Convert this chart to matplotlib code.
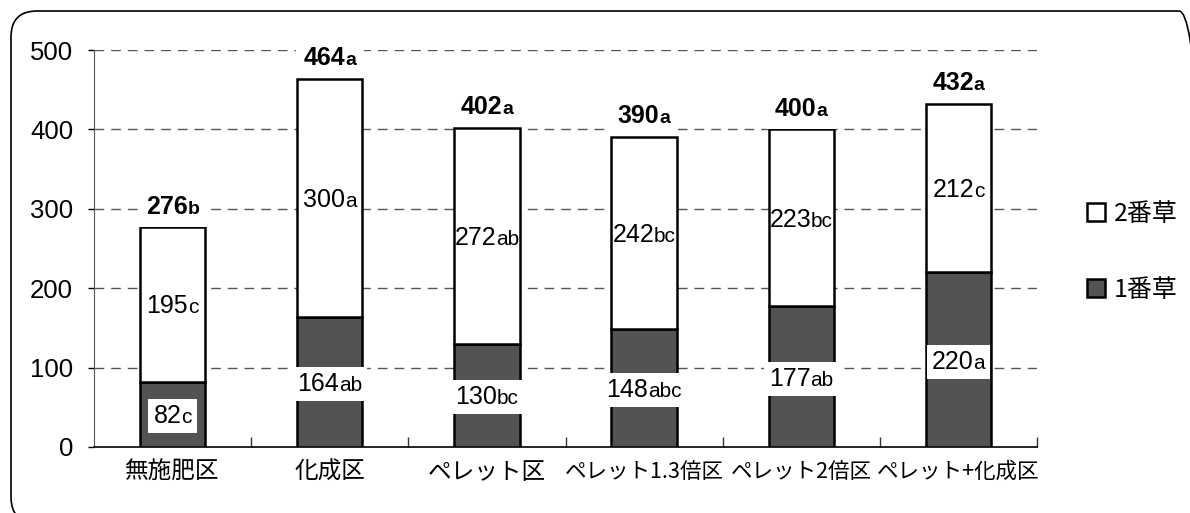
import matplotlib
matplotlib.use("Agg")
import matplotlib.pyplot as plt
from matplotlib.patches import FancyBboxPatch, Patch, Rectangle
from matplotlib import transforms
import numpy as np

categories = ["無施肥区", "化成区", "ペレット区", "ペレット1.3倍区", "ペレット2倍区", "ペレット+化成区"]
first_cut = [82, 164, 130, 148, 177, 220]
first_letters = ["c", "ab", "bc", "abc", "ab", "a"]
second_cut = [195, 300, 272, 242, 223, 212]
second_letters = ["c", "a", "ab", "bc", "bc", "c"]
totals = [276, 464, 402, 390, 400, 432]
total_letters = ["b", "a", "a", "a", "a", "a"]
legend_labels = ["2番草", "1番草"]
yticks = [0, 100, 200, 300, 400, 500]

NUM_FONT = ["Liberation Sans", "DejaVu Sans"]
JP_FONT = ["Noto Sans CJK JP", "DejaVu Sans"]

W, H = 1190, 513
DPI = 100
fig = plt.figure(figsize=(W / DPI, H / DPI), dpi=DPI)
ax = fig.add_axes([94 / W, 1 - 447 / H, (1037 - 94) / W, (447 - 50) / H])

# rounded outer frame (inch coordinates)
frame = FancyBboxPatch((11 / DPI, -10 / DPI), (1205 - 11) / DPI, (502 + 10) / DPI,
                       boxstyle="round,pad=0,rounding_size=0.26",
                       transform=fig.dpi_scale_trans, facecolor="none",
                       edgecolor="black", linewidth=1.2, clip_on=False)
fig.patches.append(frame)

x = np.arange(len(categories))
bw = 0.415
dark = "#535353"
ax.bar(x, first_cut, width=bw, color=dark, edgecolor="black", linewidth=1.8, zorder=3)
ax.bar(x, second_cut, width=bw, bottom=first_cut, color="white", edgecolor="black",
       linewidth=1.8, zorder=3)

ax.set_xlim(-0.5, len(categories) - 0.5)
ax.set_ylim(0, 500)
ax.set_yticks(yticks)
ax.set_yticklabels([str(v) for v in yticks], fontsize=18.5, family=NUM_FONT)
ax.set_xticks(x)
ax.set_xticklabels(categories, family=JP_FONT)
for i, t in enumerate(ax.get_xticklabels()):
    t.set_fontsize(17 if len(categories[i]) <= 5 else 15.5)
ax.tick_params(axis="x", which="major", length=0, pad=10)
ax.set_xticks(np.arange(0.5, len(categories), 1.0), minor=True)
ax.tick_params(axis="x", which="minor", direction="in", length=7, width=1, color="#333333")
ax.tick_params(axis="y", which="major", direction="out", length=4, width=1, pad=11)

for s in ["top", "right"]:
    ax.spines[s].set_visible(False)
ax.spines["left"].set_color("#555555")
ax.spines["bottom"].set_color("black")
ax.spines["bottom"].set_linewidth(1.2)
ax.set_autoscale_on(False)

for v in yticks[1:]:
    ax.axhline(v, color="#555555", linestyle=(0, (7, 5)), linewidth=1, zorder=1)

fig.canvas.draw()
renderer = fig.canvas.get_renderer()


def width_pts(s, size, weight):
    tmp = ax.text(0, 0, s, fontsize=size, family=NUM_FONT, weight=weight)
    w = tmp.get_window_extent(renderer).width * 72 / DPI
    tmp.remove()
    return w


def label(xv, yv, num, let, numsize, letsize, weight, boxpad, center=True, dy=0):
    nw = width_pts(num, numsize, weight)
    lw = width_pts(let, letsize, weight)
    total = nw + lw
    base_dy = (-0.358 * numsize if center else 0) + dy
    tn = transforms.offset_copy(ax.transData, fig=fig, x=-total / 2, y=base_dy, units="points")
    tl = transforms.offset_copy(ax.transData, fig=fig, x=-total / 2 + nw, y=base_dy, units="points")
    t1 = ax.text(xv, yv, num, fontsize=numsize, family=NUM_FONT, weight=weight,
                 ha="left", va="baseline", transform=tn, zorder=6)
    t2 = ax.text(xv, yv, let, fontsize=letsize, family=NUM_FONT, weight=weight,
                 ha="left", va="baseline", transform=tl, zorder=6)
    if boxpad is not None:
        e1 = t1.get_window_extent(renderer)
        e2 = t2.get_window_extent(renderer)
        x0 = min(e1.x0, e2.x0) - boxpad
        x1 = max(e1.x1, e2.x1) + boxpad
        y0 = e1.y0 - boxpad
        y1 = e1.y1 + boxpad
        r = Rectangle((x0, y0), x1 - x0, y1 - y0, transform=transforms.IdentityTransform(),
                      facecolor="white", edgecolor="none", zorder=5)
        ax.add_patch(r)


for i in range(len(categories)):
    label(x[i], first_cut[i] / 2, str(first_cut[i]), first_letters[i], 18, 15, "normal", 5)
    label(x[i], first_cut[i] + second_cut[i] / 2, str(second_cut[i]), second_letters[i],
          18, 15, "normal", None)
    label(x[i], totals[i], str(totals[i]), total_letters[i], 18, 14, "bold", 8,
          center=False, dy=10)

handles = [Patch(facecolor="white", edgecolor="black", linewidth=1.8),
           Patch(facecolor=dark, edgecolor="black", linewidth=1.8)]
leg = fig.legend(handles, legend_labels, loc="center left",
                 bbox_to_anchor=(1064 / W, 1 - 252 / H), frameon=False,
                 handlelength=0.75, handleheight=0.75, handletextpad=0.35,
                 labelspacing=2.0, prop={"family": JP_FONT, "size": 18})

fig.savefig("out.png", dpi=DPI)
